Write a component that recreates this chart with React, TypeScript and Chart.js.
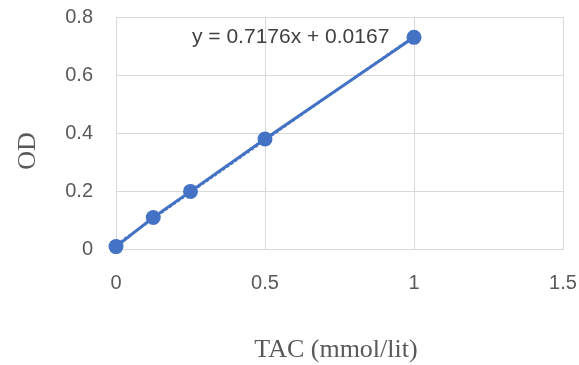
import React, { useEffect, useRef } from "react";
import { Chart, registerables } from "chart.js";

Chart.register(...registerables);

const tacValues = [0, 0.125, 0.25, 0.5, 1];
const odValues = [0.01, 0.11, 0.2, 0.38, 0.73];
const trendSlope = 0.7176;
const trendIntercept = 0.0167;
const trendRange = [0, 1];
const xTickValues = [0, 0.5, 1, 1.5];
const yTickValues = [0, 0.2, 0.4, 0.6, 0.8];
const equationLabel = "y = 0.7176x + 0.0167";
const xTitle = "TAC (mmol/lit)";
const yTitle = "OD";

const BLUE = "#4472C4";
const GRID = "#D9D9D9";
const TEXT = "#595959";

const textPlugin = {
  id: "textOverlay",
  afterDraw(chart: any) {
    const ctx = chart.ctx;
    ctx.save();
    ctx.fillStyle = "#404040";
    ctx.font = "21px 'Liberation Sans', Arial, sans-serif";
    ctx.textAlign = "left";
    ctx.textBaseline = "middle";
    ctx.fillText(equationLabel, 192, 37);

    ctx.fillStyle = TEXT;
    ctx.font = "26px 'Liberation Serif', 'Times New Roman', serif";
    ctx.textAlign = "center";
    ctx.textBaseline = "middle";
    ctx.fillText(xTitle, 336, 350);

    ctx.translate(28, 151);
    ctx.rotate(-Math.PI / 2);
    ctx.fillText(yTitle, 0, 0);
    ctx.restore();
  },
};

const zeroPadding = (scale: any) => {
  scale.paddingTop = 0;
  scale.paddingBottom = 0;
  scale.paddingLeft = 0;
  scale.paddingRight = 0;
};

export default function App() {
  const canvasRef = useRef<HTMLCanvasElement | null>(null);

  useEffect(() => {
    if (!canvasRef.current) return;
    const chart = new Chart(canvasRef.current, {
      type: "scatter",
      data: {
        datasets: [
          {
            label: "OD",
            data: tacValues.map((x, i) => ({ x, y: odValues[i] })),
            showLine: true,
            clip: false,
            borderColor: BLUE,
            backgroundColor: BLUE,
            borderWidth: 3,
            pointRadius: 7.5,
            pointBackgroundColor: BLUE,
            pointBorderColor: BLUE,
            pointBorderWidth: 0,
            order: 2,
          },
          {
            label: "Linear",
            data: trendRange.map((x) => ({ x, y: trendSlope * x + trendIntercept })),
            showLine: true,
            clip: false,
            borderColor: BLUE,
            borderWidth: 2,
            borderDash: [3, 2],
            pointRadius: 0,
            order: 1,
          },
        ],
      },
      options: {
        animation: false,
        responsive: true,
        maintainAspectRatio: false,
        layout: { padding: { top: 17, right: 16, left: 0, bottom: 0 } },
        plugins: {
          legend: { display: false },
          tooltip: { enabled: false },
        },
        scales: {
          x: {
            type: "linear",
            min: 0,
            max: 1.5,
            afterBuildTicks: (scale: any) => {
              scale.ticks = xTickValues.map((v) => ({ value: v }));
            },
            afterFit: (scale: any) => {
              scale.height = 115.5;
              zeroPadding(scale);
            },
            ticks: {
              color: TEXT,
              font: { family: "'Liberation Sans', Arial, sans-serif", size: 20 },
              padding: 22,
              maxRotation: 0,
              callback: (v: any) => String(v),
            },
            grid: { color: GRID, lineWidth: 1, drawTicks: false },
            border: { color: GRID, width: 1 },
          },
          y: {
            type: "linear",
            min: 0,
            max: 0.8,
            afterBuildTicks: (scale: any) => {
              scale.ticks = yTickValues.map((v) => ({ value: v }));
            },
            afterFit: (scale: any) => {
              scale.width = 116;
              zeroPadding(scale);
            },
            ticks: {
              color: TEXT,
              font: { family: "'Liberation Sans', Arial, sans-serif", size: 20 },
              padding: 23,
              callback: (v: any) => String(Math.round(v * 10) / 10),
            },
            grid: { color: GRID, lineWidth: 1, drawTicks: false },
            border: { color: GRID, width: 1 },
          },
        },
      },
      plugins: [textPlugin],
    });
    return () => chart.destroy();
  }, []);

  return (
    <div style={{ position: "fixed", left: 0, top: 0, width: 579, height: 365, background: "#fff" }}>
      <canvas ref={canvasRef} />
    </div>
  );
}
